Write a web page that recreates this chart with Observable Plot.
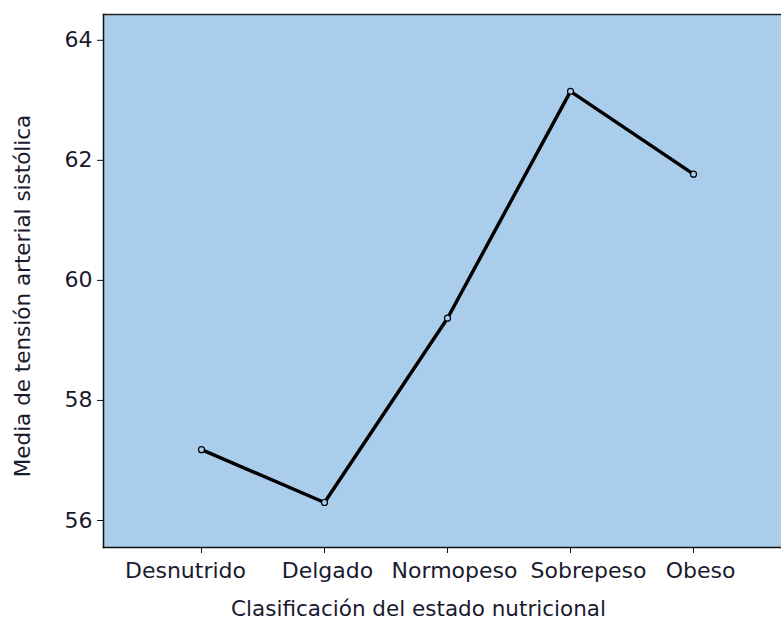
<!DOCTYPE html>
<html><head><meta charset="utf-8">
<script src="https://cdn.jsdelivr.net/npm/d3@7"></script>
<script src="https://cdn.jsdelivr.net/npm/@observablehq/plot@0.6"></script>
<style>body{margin:0;background:#fff}</style>
</head><body><div id="chart"></div>
<script>
const categories = ["Desnutrido", "Delgado", "Normopeso", "Sobrepeso", "Obeso"];
const means = [57.18, 56.30, 59.37, 63.15, 61.77];
const yTicks = [56, 58, 60, 62, 64];
const xTitle = "Clasificación del estado nutricional";
const yTitle = "Media de tensión arterial sistólica";
const data = categories.map((c, i) => ({cat: c, value: means[i]}));

// label nudges (styling) so the tick labels do not collide, as in the reference
const labelShift = {Desnutrido: -16, Delgado: 3, Normopeso: 7, Sobrepeso: 18, Obeso: 7};

const plot = Plot.plot({
  width: 781, height: 619,
  marginLeft: 103, marginRight: 0, marginTop: 14, marginBottom: 72,
  style: {fontFamily: "DejaVu Sans", fontSize: "22px", color: "#1a1a2e", background: "white"},
  x: {type: "point", domain: categories, range: [200, 694], padding: 0},
  y: {domain: [55.55, 64.43]},
  marks: [
    Plot.frame({fill: "#abcdec", stroke: null}),
    Plot.frame({anchor: "left", stroke: "#111", strokeWidth: 1.5}),
    Plot.frame({anchor: "top", stroke: "#222", strokeWidth: 1.5}),
    Plot.frame({anchor: "bottom", stroke: "#111", strokeWidth: 1.5}),
    Plot.axisX({ticks: categories, tickSize: 6, text: null, label: null, stroke: "#111"}),
    ...categories.map(c => Plot.axisX({ticks: [c], tickSize: 0, tickPadding: 15, dx: labelShift[c], label: null, fill: "#1a1a2e", fontSize: 22})),
    Plot.axisY({ticks: yTicks, tickSize: 6, tickPadding: 5, label: null, stroke: "#111", fill: "#1a1a2e", fontSize: 22}),
    Plot.line(data, {x: "cat", y: "value", stroke: "black", strokeWidth: 3.5}),
    Plot.dot(data, {x: "cat", y: "value", r: 3, stroke: "black", fill: "#abcdec", strokeWidth: 1.2}),
    Plot.text([xTitle], {frameAnchor: "bottom", text: d => d, textAnchor: "middle", dx: -24, dy: 68, fill: "#1a1a2e", fontSize: 21.5}),
    Plot.text([yTitle], {frameAnchor: "left", text: d => d, textAnchor: "middle", rotate: -90, dx: -80, dy: 15, fill: "#1a1a2e", fontSize: 21.5})
  ]
});
document.getElementById("chart").append(plot);
</script>
</body></html>
